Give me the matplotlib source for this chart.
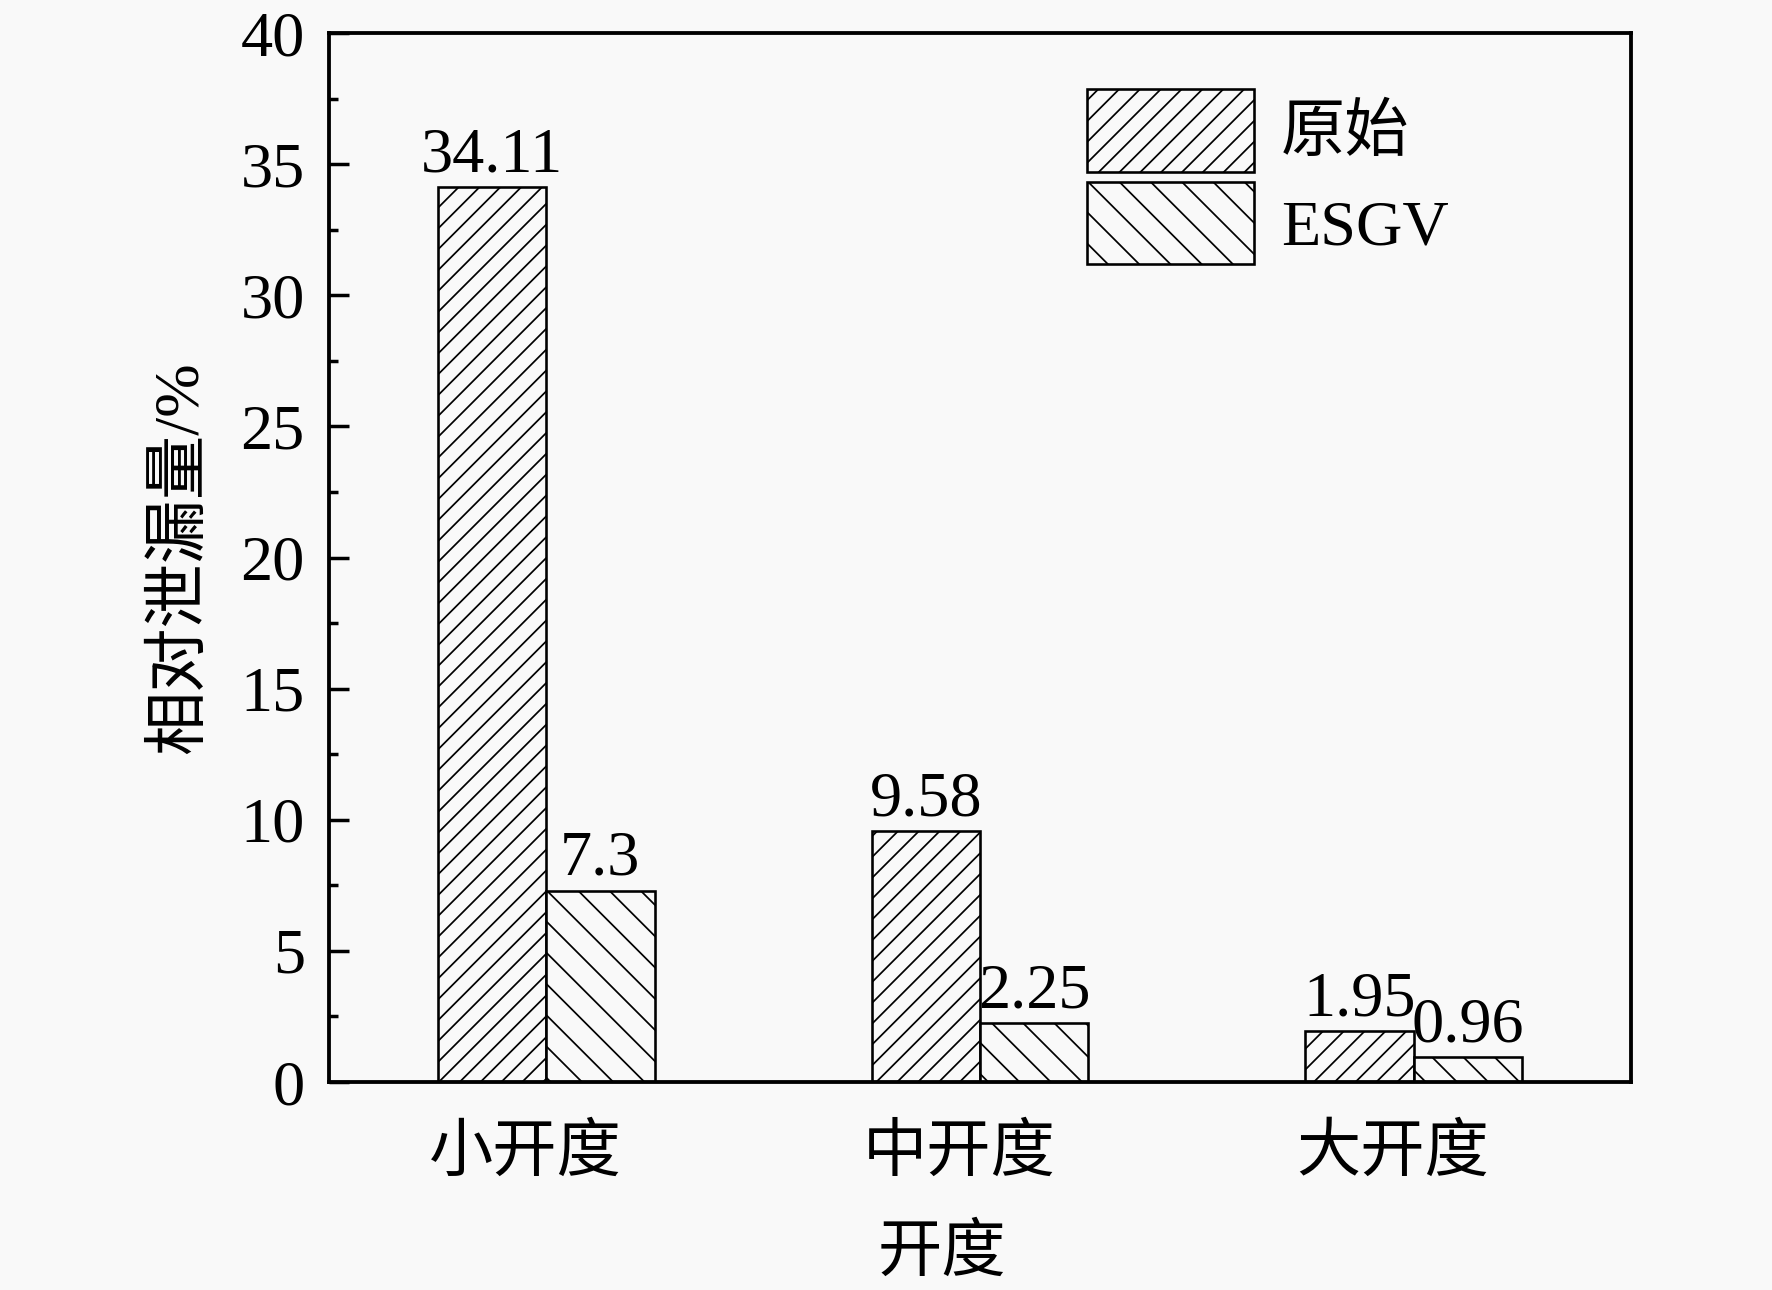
import numpy as np
import matplotlib
matplotlib.use("Agg")
import matplotlib.pyplot as plt
import matplotlib.hatch as mhatch
import matplotlib.transforms as mtransforms
from matplotlib.ticker import MultipleLocator


# data
categories = ["小开度", "中开度", "大开度"]
series_names = ["原始", "ESGV"]
original = [34.11, 9.58, 1.95]
esgv = [7.3, 2.25, 0.96]
value_labels = [["34.11", "9.58", "1.95"], ["7.3", "2.25", "0.96"]]


# ESGV hatch in the reference is sparser than the '/' one
class SparseSouthEast(mhatch.SouthEastHatch):
    def __init__(self, hatch, density):
        super().__init__(hatch, density)
        self.num_lines = int(hatch.count('\\') * 4)
        self.num_vertices = (self.num_lines + 1) * 2 if self.num_lines else 0


mhatch._hatch_types = [SparseSouthEast if t is mhatch.SouthEastHatch else t
                       for t in mhatch._hatch_types]

plt.rcParams['font.family'] = ['Liberation Serif', 'Noto Sans CJK SC']
plt.rcParams['hatch.linewidth'] = 1.0
plt.rcParams['axes.unicode_minus'] = False

BG = "#f9f9f9"
FS = 37

fig = plt.figure(figsize=(1772 / 125, 1290 / 125), dpi=125, facecolor=BG)
ax = fig.add_axes([0.1857, 0.1612, 0.7347, 0.8132], facecolor=BG)

x = np.arange(1, len(categories) + 1)
w = 0.25

b1 = ax.bar(x - w / 2, original, w, facecolor=BG, edgecolor="black",
            linewidth=1.5, hatch="//", label=series_names[0])
b2 = ax.bar(x + w / 2, esgv, w, facecolor=BG, edgecolor="black",
            linewidth=1.5, hatch="\\\\", label=series_names[1])

ax.bar_label(b1, labels=value_labels[0], padding=1, fontsize=FS)
ax.bar_label(b2, labels=value_labels[1], padding=1, fontsize=FS)

ax.set_xlim(0.5, 3.5)
ax.set_ylim(0, 40)
ax.yaxis.set_major_locator(MultipleLocator(5))
ax.yaxis.set_minor_locator(MultipleLocator(2.5))
ax.set_xticks(x)
ax.set_xticklabels(categories)

ax.tick_params(axis='y', which='major', direction='in', length=11.5, width=2,
               labelsize=FS, pad=14)
ax.tick_params(axis='y', which='minor', direction='in', length=5, width=2)
ax.tick_params(axis='x', length=0, labelsize=FS, pad=25)

# category labels sit a little left of the group centre in the original
shift = mtransforms.ScaledTranslation(-21 / 125, 0, fig.dpi_scale_trans)
for lab in ax.get_xticklabels():
    lab.set_transform(lab.get_transform() + shift)

for s in ax.spines.values():
    s.set_linewidth(2.2)

ax.set_ylabel("相对泄漏量/%", fontsize=FS, labelpad=17)
ax.set_xlabel("开度", fontsize=FS, labelpad=23)
ax.xaxis.label.set_x(0.471)

ax.legend(loc='upper left', bbox_to_anchor=(0.6134, 0.931),
          bbox_transform=fig.transFigure, frameon=False, fontsize=FS,
          borderpad=0, borderaxespad=0, handlelength=2.6, handleheight=1.6,
          labelspacing=0.16, handletextpad=0.42)

fig.savefig("out.png", dpi=125, facecolor=BG)
